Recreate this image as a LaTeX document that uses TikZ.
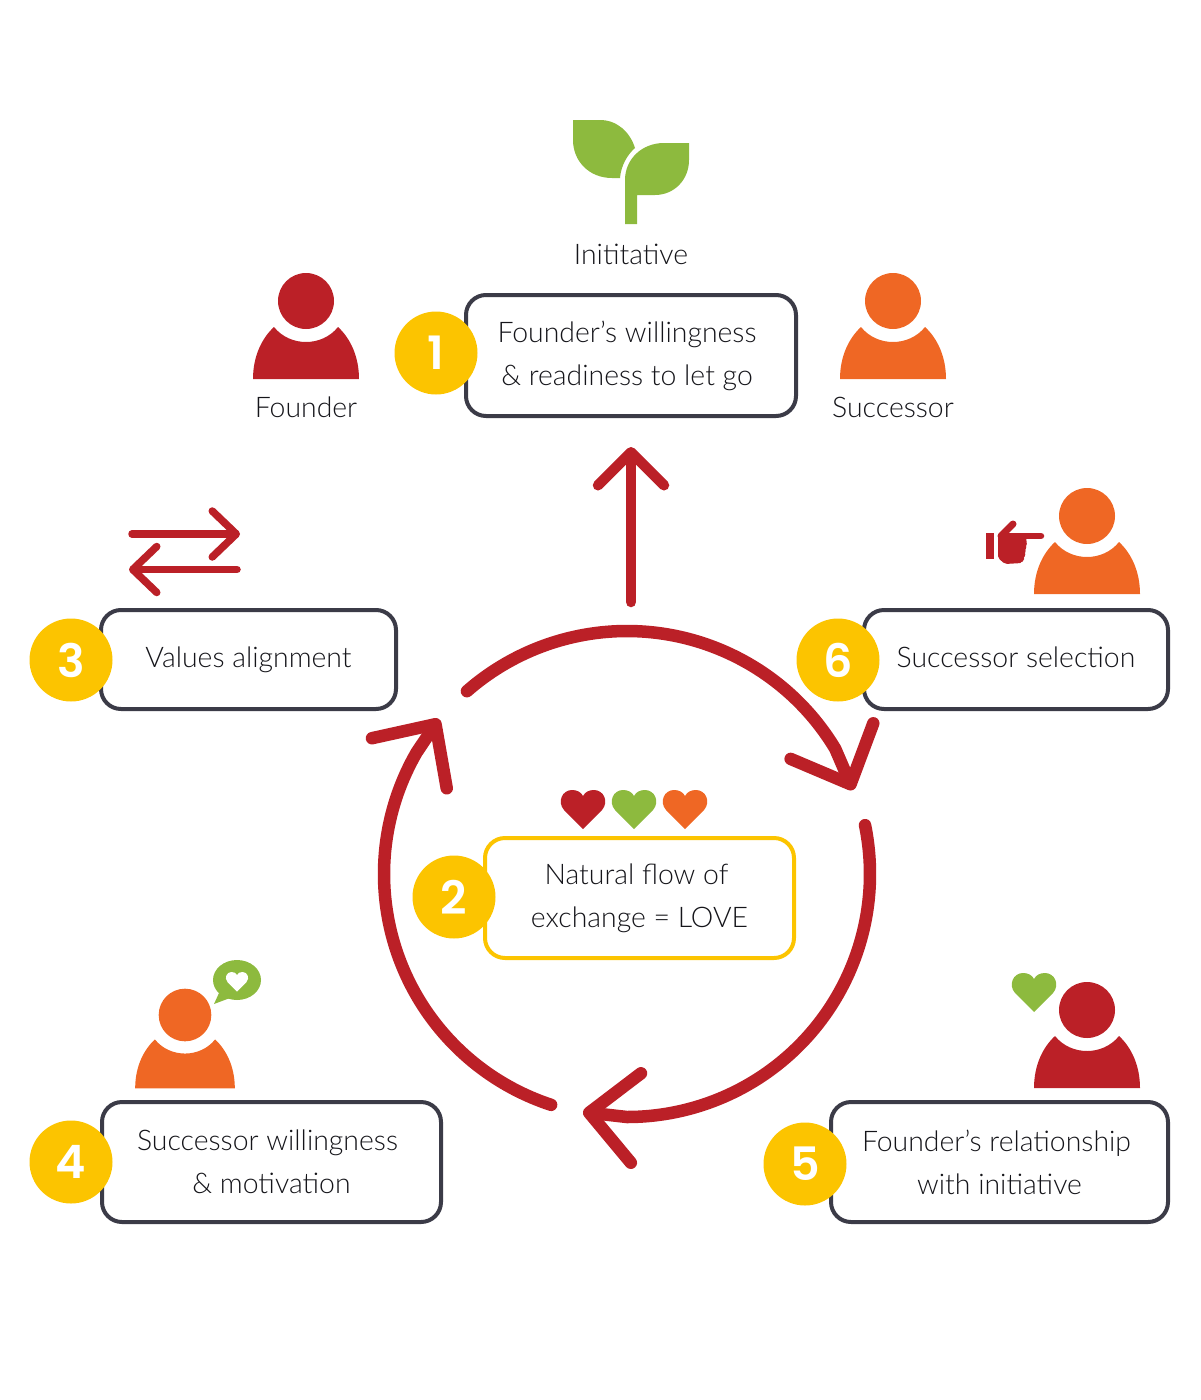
\documentclass[tikz,border=0pt]{standalone}
\usepackage{fontspec}
\usetikzlibrary{arrows.meta}
\newfontfamily\ligera{Lato Light}
\newfontfamily\negrita{Poppins SemiBold}
\definecolor{FlowRed}{HTML}{BB2027}
\definecolor{FlowOrange}{HTML}{EF6724}
\definecolor{FlowGreen}{HTML}{8DBA3E}
\definecolor{FlowYellow}{HTML}{FCC400}
\definecolor{FlowDark}{HTML}{3B3B47}
\definecolor{FlowText}{HTML}{15151A}
\tikzset{
  caja/.style={draw=FlowDark, fill=white, line width=4pt, rounded corners=20pt,
               align=center, text=FlowText, inner sep=0pt,
               font=\fontsize{28.4}{43}\selectfont\ligera},
  cajaamor/.style={caja, draw=FlowYellow},
  numero/.style={circle, fill=FlowYellow, text=white, minimum size=83pt, inner sep=0pt,
                 font=\fontsize{46}{46}\selectfont\negrita},
  rotulo/.style={text=FlowText, inner sep=0pt, font=\fontsize{28.4}{36}\selectfont\ligera},
  flecha/.style={-{Straight Barb[round,length=47pt,width=90pt]}, line width=12.5pt,
                 line cap=round, FlowRed},
  flechamedia/.style={-{Straight Barb[round,length=33pt,width=66pt]}, line width=10.5pt,
                 line cap=round, FlowRed},
  flechafina/.style={-{Straight Barb[round,length=24pt,width=46pt]}, line width=7.5pt,
                 line cap=round, FlowRed},
}
% silueta de persona: escala, x, y de la cabeza, color
\newcommand{\persona}[4]{
  \begin{scope}[shift={(#2,#3)}, scale=#1]
    \fill[#4] (0,0) circle[radius=28];
    \fill[#4] (-53,78) .. controls (-53,55) and (-44,37) .. (-32,26)
      .. controls (-24,36) and (-12,41) .. (0,41)
      .. controls (12,41) and (24,36) .. (32,26)
      .. controls (44,37) and (53,55) .. (53,78) -- cycle;
  \end{scope}
}
% corazon: escala, x central, y superior, color
\newcommand{\corazon}[4]{
  \begin{scope}[shift={(#2,#3)}, scale=#1]
    \fill[#4] (0,39) -- (-19,20) .. controls (-26,12) and (-21,0) .. (-11,0)
      .. controls (-6,0) and (-2,2) .. (0,6)
      .. controls (2,2) and (6,0) .. (11,0)
      .. controls (21,0) and (26,12) .. (19,20) -- cycle;
  \end{scope}
}
\begin{document}
\begin{tikzpicture}[x=1pt, y=-1pt]
  \useasboundingbox (0,0) rectangle (1200,1400);

  % brote
  \fill[FlowGreen] (573,120) -- (600,120) .. controls (617,120) and (630,132) .. (635,148)
    .. controls (627,155) and (621,166) .. (620,178) -- (612,178)
    .. controls (589,178) and (573,161) .. (573,140) -- cycle;
  \fill[FlowGreen] (625,224) -- (625,180) .. controls (625,159) and (642,143) .. (664,143)
    -- (689,143) -- (689,160) .. controls (689,180) and (674,195) .. (655,195)
    -- (637,195) -- (637,224) -- cycle;
  \node[rotulo] (iniciativa) at (631,254) {Inititative};

  % personas de arriba
  \persona{1}{306}{301}{FlowRed}
  \persona{1}{893}{301}{FlowOrange}
  \node[rotulo] (fundador) at (306,407) {Founder};
  \node[rotulo] (sucesor) at (893,407) {Successor};

  % cajas
  \node[caja, minimum width=330pt, minimum height=121pt] (caja1) at (631,355.5)
    {Founder’s willingness\hspace*{8pt}\\\& readiness to let go\hspace*{8pt}};
  \node[caja, minimum width=295pt, minimum height=99pt] (caja3) at (248.5,659.5) {Values alignment};
  \node[caja, minimum width=304pt, minimum height=99pt] (caja6) at (1016,659.5) {Successor selection\vphantom{g}};
  \node[cajaamor, minimum width=309pt, minimum height=120pt] (caja2) at (639.5,898)
    {Natural flow of\hspace*{6pt}\\exchange = LOVE};
  \node[caja, minimum width=339pt, minimum height=120pt] (caja4) at (271.5,1162)
    {Successor willingness\hspace*{8pt}\\\& motivation};
  \node[caja, minimum width=337pt, minimum height=120pt] (caja5) at (999.5,1162)
    {Founder’s relationship\hspace*{6pt}\\with initiative};

  % numeros
  \node[numero] (num1) at (436,353) {1};
  \node[numero] (num2) at (454,897) {2};
  \node[numero] (num3) at (71,660) {3};
  \node[numero] (num4) at (71,1162) {4};
  \node[numero] (num5) at (805,1164) {5};
  \node[numero] (num6) at (838,660) {6};

  % circulo de flechas
  \coordinate (centro) at (627,874);
  \coordinate (punta1) at (853,790);
  \coordinate (punta2) at (583,1112);
  \coordinate (punta3) at (439,719);
  \draw[flecha] (centro) ++(228.8:243) arc[start angle=228.8, end angle=329, radius=243] -- (punta1);
  \draw[flecha] (centro) ++(-11.6:243) arc[start angle=-11.6, end angle=90, radius=243] -- (punta2);
  \draw[flecha] (centro) ++(108.2:243) arc[start angle=108.2, end angle=210, radius=243] -- (punta3);

  % flecha hacia la caja 1
  \coordinate (subeA) at (631,602);
  \coordinate (subeB) at (631,447);
  \draw[flechamedia] (subeA) -- (subeB);

  % intercambio
  \coordinate (idaA) at (132,534);
  \coordinate (idaB) at (240,534);
  \coordinate (vueltaA) at (237,569.5);
  \coordinate (vueltaB) at (129,569.5);
  \draw[flechafina] (idaA) -- (idaB);
  \draw[flechafina] (vueltaA) -- (vueltaB);

  % corazones
  \corazon{1}{583}{790}{FlowRed}
  \corazon{1}{634}{790}{FlowGreen}
  \corazon{1}{685}{790}{FlowOrange}

  % persona 4 y globo
  \persona{0.94}{185}{1015}{FlowOrange}
  \fill[FlowGreen] (237,980) ellipse[x radius=24, y radius=20];
  \fill[FlowGreen] (219,993) -- (214,1004) -- (230,998) -- cycle;
  \corazon{0.5}{237}{972}{white}

  % persona 5
  \persona{1}{1087}{1010}{FlowRed}
  \corazon{1}{1034}{973}{FlowGreen}

  % persona 6 y mano
  \persona{1}{1087}{516}{FlowOrange}
  \fill[FlowRed] (986,533) rectangle (994,559);
  \draw[FlowRed, line width=7pt, line cap=round] (1001,536) -- (1013,524);
  \draw[FlowRed, line width=6.5pt, line cap=round] (1005,536) -- (1041,536);
  \fill[FlowRed, rounded corners=2pt] (998,536) -- (1026,536) -- (1027,546) -- (1025,548)
    -- (1026,553) -- (1024,555) -- (1025,558) -- (1023,560) -- (1022,563)
    -- (1005,564) -- (998,558) -- cycle;
\end{tikzpicture}
\end{document}
